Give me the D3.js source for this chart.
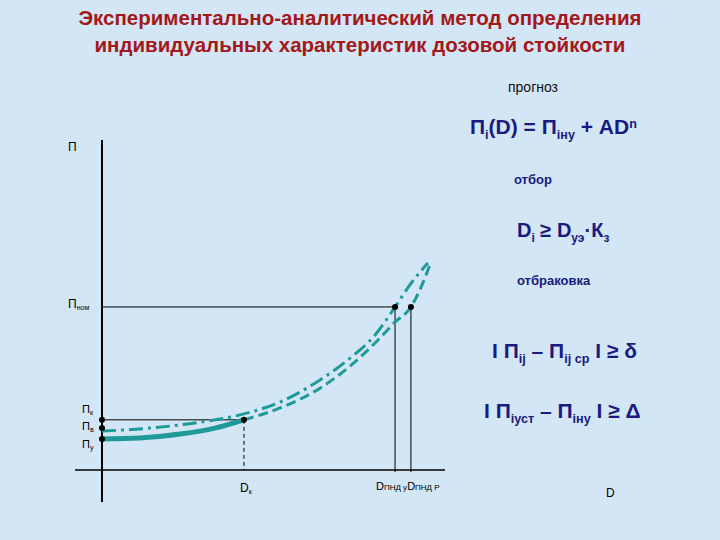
<!DOCTYPE html>
<html><head><meta charset="utf-8">
<script src="https://cdn.jsdelivr.net/npm/d3@7"></script>
<style>body{margin:0;background:#d3e6f5}</style>
</head><body>
<svg id="canvas" width="720" height="540"></svg>
<script>
// points (D, П in relative units)
let solidD = [0, 0.112, 0.231, 0.334, 0.42]
let solidP = [0.094, 0.097, 0.109, 0.127, 0.152]
let dashDotD = [0, 0.142, 0.29, 0.42, 0.527, 0.645, 0.734, 0.808, 0.867, 0.911, 0.964]
let dashDotP = [0.118, 0.127, 0.145, 0.170, 0.206, 0.273, 0.339, 0.409, 0.494, 0.561, 0.627]
let dashedD = [0.42, 0.527, 0.645, 0.734, 0.808, 0.867, 0.914, 0.94, 0.97]
let dashedP = [0.152, 0.188, 0.248, 0.315, 0.385, 0.448, 0.494, 0.545, 0.621]
let levelNames = ['Пк', 'Пв', 'Пу']
let levelValues = [0.152, 0.127, 0.094]
let labelShift = [-7, 2, 9]
let Pnom = 0.494
let Dk = 0.42
let Dpnd = [0.867, 0.914]

let svg = d3.select('#canvas')
let x = d3.scaleLinear().domain([0, 1]).range([102, 440])
let y = d3.scaleLinear().domain([0, 1]).range([470, 140])
let navy = '#1a1a80'
let teal = '#1f9a98'

svg.append('rect').attr('width', 720).attr('height', 540).attr('fill', '#d3e6f5')

// title
let title = ['Экспериментально-аналитический метод определения', 'индивидуальных характеристик дозовой стойкости']
svg.selectAll('.title').data(title).enter().append('text')
    .attr('x', 360).attr('y', (d, i) => 25 + i * 27)
    .attr('text-anchor', 'middle').attr('font-family', 'Liberation Sans, Arial').attr('font-weight', 'bold')
    .attr('font-size', 20.5).attr('fill', '#a3181a').text(d => d)

// axes
svg.append('line').attr('x1', x(0)).attr('x2', x(0)).attr('y1', 140).attr('y2', 502).attr('stroke', '#000').attr('stroke-width', 2)
svg.append('line').attr('x1', 75).attr('x2', 445).attr('y1', y(0)).attr('y2', y(0)).attr('stroke', '#000').attr('stroke-width', 1.5)

let line = d3.line().x(d => x(d[0])).y(d => y(d[1])).curve(d3.curveMonotoneX)

// guide lines
svg.append('line').attr('x1', x(0)).attr('x2', x(Dpnd[0])).attr('y1', y(Pnom)).attr('y2', y(Pnom)).attr('stroke', '#000')
svg.append('line').attr('x1', x(0)).attr('x2', x(Dk)).attr('y1', y(levelValues[0])).attr('y2', y(levelValues[0])).attr('stroke', '#000')
Dpnd.forEach(d => {
    svg.append('line').attr('x1', x(d)).attr('x2', x(d)).attr('y1', y(Pnom)).attr('y2', y(0) + 2).attr('stroke', '#000')
})
svg.append('line').attr('x1', x(Dk)).attr('x2', x(Dk)).attr('y1', y(levelValues[0])).attr('y2', y(0))
    .attr('stroke', '#000').attr('stroke-dasharray', '4,3')

// curves
svg.append('path').attr('d', line(d3.zip(dashDotD, dashDotP))).attr('fill', 'none')
    .attr('stroke', teal).attr('stroke-width', 3).attr('stroke-dasharray', '14,5,3,5')
svg.append('path').attr('d', line(d3.zip(dashedD, dashedP))).attr('fill', 'none')
    .attr('stroke', teal).attr('stroke-width', 3).attr('stroke-dasharray', '10,5')
svg.append('path').attr('d', line(d3.zip(solidD, solidP))).attr('fill', 'none')
    .attr('stroke', teal).attr('stroke-width', 5)

// points
let pts = [[Dk, levelValues[0]], [Dpnd[0], Pnom], [Dpnd[1], Pnom]].concat(levelValues.map(v => [0, v]))
svg.selectAll('.pt').data(pts).enter().append('circle')
    .attr('cx', d => x(d[0])).attr('cy', d => y(d[1])).attr('r', 3).attr('fill', '#000')

let small = (tx, ty, main, sub, size) => {
    let t = svg.append('text').attr('x', tx).attr('y', ty).attr('font-family', 'Liberation Sans, Arial')
        .attr('font-size', size || 12).attr('fill', '#000')
    t.append('tspan').text(main)
    if (sub) t.append('tspan').attr('font-size', 7).attr('dy', 2).text(sub)
}
small(68, 151, 'П')
small(68, 308, 'П', 'ном')
levelNames.forEach((n, i) => small(82, y(levelValues[i]) + labelShift[i], 'П', n.slice(1), 11))
small(240, 492, 'D', 'к')
let td = svg.append('text').attr('x', 376).attr('y', 490).attr('font-family', 'Liberation Sans, Arial').attr('font-size', 11)
td.append('tspan').text('D'); td.append('tspan').attr('font-size', 8).text('ПНД у')
td.append('tspan').text('D'); td.append('tspan').attr('font-size', 8).text('ПНД Р')
small(606, 497, 'D')

// right-side formulas
let rich = (tx, ty, parts, size, color, weight) => {
    let t = svg.append('text').attr('x', tx).attr('y', ty).attr('font-family', 'Liberation Sans, Arial')
        .attr('font-size', size).attr('fill', color).attr('font-weight', weight)
    parts.forEach(p => {
        let s = t.append('tspan').text(p[0])
        if (p[1] === 'sub') s.attr('font-size', size * 0.6).attr('dy', size * 0.25)
        if (p[1] === 'up') s.attr('dy', -size * 0.25)
        if (p[1] === 'sup') s.attr('font-size', size * 0.6).attr('dy', -size * 0.3)
    })
}
rich(508, 92, [['прогноз']], 14, '#111', 'normal')
rich(470, 134, [['П'], ['i', 'sub'], ['(D) = П', 'up'], ['іну', 'sub'], [' + AD', 'up'], ['n', 'sup']], 21, navy, 'bold')
rich(514, 184, [['отбор']], 13, navy, 'bold')
rich(517, 237, [['D'], ['i', 'sub'], [' ≥ D', 'up'], ['уэ', 'sub'], ['·К', 'up'], ['з', 'sub']], 20, navy, 'bold')
rich(517, 285, [['отбраковка']], 13, navy, 'bold')
rich(492, 358, [['I П'], ['ij', 'sub'], [' – П', 'up'], ['ij ср', 'sub'], [' I ≥ δ', 'up']], 21, navy, 'bold')
rich(484, 418, [['I П'], ['iуст', 'sub'], [' – П', 'up'], ['іну', 'sub'], [' I ≥ Δ', 'up']], 21, navy, 'bold')
</script>
</body></html>
